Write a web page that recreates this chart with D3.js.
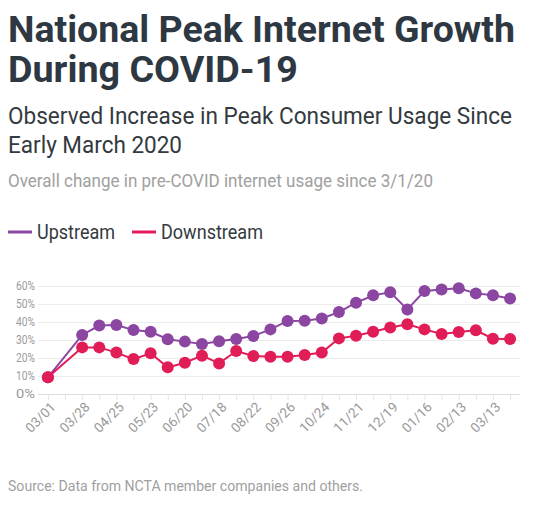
<!DOCTYPE html>
<html>
<head>
<meta charset="utf-8">
<script src="https://cdn.jsdelivr.net/npm/d3@7"></script>
<style>
  html, body { margin: 0; padding: 0; background: #fff; }
  text { font-family: Roboto, "Noto Sans", sans-serif; }
</style>
</head>
<body>
<div id="chart"></div>
<script>
// Peak internet growth during COVID-19 (percent over early March 2020)

const dates = ["03/01", "03/14", "03/28", "04/11", "04/25", "05/09", "05/23", "06/06",
  "06/20", "07/04", "07/18", "08/08", "08/22", "09/12", "09/26", "10/10", "10/24",
  "11/07", "11/21", "12/05", "12/19", "01/02", "01/16", "01/30", "02/13", "02/27",
  "03/13", "03/27"];

// null = no reading for that week
const upstream = [9.3, null, 32.8, 38.0, 38.3, 35.5, 34.6, 30.4, 29.1, 27.8, 29.3, 30.5,
  32.2, 35.9, 40.6, 40.7, 42.0, 45.5, 50.7, 54.8, 56.5, 47.0, 57.2, 58.1, 58.7, 55.9,
  54.8, 53.0];
const downstream = [9.3, null, 25.9, 25.9, 23.0, 19.4, 22.6, 14.8, 17.4, 21.3, 17.0, 23.9,
  21.1, 20.7, 20.7, 21.7, 23.0, 30.9, 32.4, 34.6, 36.9, 38.7, 35.9, 33.3, 34.4, 35.4,
  30.7, 30.5];

const yTicks = [0, 10, 20, 30, 40, 50, 60];
const xTickLabels = dates.filter((d, i) => i % 2 === 0 && i < 27);

const W = 540, H = 510;
const purple = "#8a46a0";
const red = "#e11d58";

const svg = d3.select("#chart").append("svg")
  .attr("width", W)
  .attr("height", H);

// header texts: one <text> per block, lines as tspans (condensed look via textLength)
function addBlock(lines, x, size, weight, color) {
  const t = svg.append("text")
    .attr("font-size", size)
    .attr("font-weight", weight)
    .attr("fill", color);
  lines.forEach(l => {
    t.append("tspan")
      .attr("x", x).attr("y", l.y)
      .attr("textLength", l.len)
      .attr("lengthAdjust", "spacingAndGlyphs")
      .text(l.str);
  });
  return t;
}

addBlock([
  { str: "National Peak Internet Growth", y: 42, len: 507 },
  { str: "During COVID-19", y: 82, len: 290 }
], 8, 37, 700, "#2e3842");
addBlock([
  { str: "Observed Increase in Peak Consumer Usage Since", y: 124, len: 504 },
  { str: "Early March 2020", y: 153, len: 174 }
], 8, 23.5, 400, "#333a40");
addBlock([{ str: "Overall change in pre-COVID internet usage since 3/1/20", y: 187, len: 425 }],
  8, 17.5, 400, "#a0a0a0");
addBlock([{ str: "Source: Data from NCTA member companies and others.", y: 491, len: 355 }],
  8, 15, 400, "#a0a0a0");

// legend
const legend = [
  { name: "Upstream", color: purple, x: 8, len: 78 },
  { name: "Downstream", color: red, x: 132, len: 102 }
];
legend.forEach(l => {
  svg.append("line")
    .attr("x1", l.x).attr("x2", l.x + 24)
    .attr("y1", 232).attr("y2", 232)
    .attr("stroke", l.color).attr("stroke-width", 3);
  addBlock([{ str: l.name, y: 239, len: l.len }], l.x + 29, 21, 400, "#333a40");
});

// scales
const x = d3.scalePoint().domain(dates).range([38, 520]).padding(0.58);
const y = d3.scaleLinear().domain([0, 60]).range([394, 286]);

// gridlines + y labels
const yAxis = svg.append("g")
  .attr("transform", "translate(38,0)")
  .call(d3.axisLeft(y).tickValues(yTicks).tickSize(-482).tickFormat(d => d + "%"));
yAxis.select(".domain").remove();
yAxis.selectAll(".tick line").attr("stroke", d => d === 0 ? "#dcdcdc" : "#ececec");
yAxis.selectAll(".tick text")
  .attr("x", -3)
  .attr("fill", "#9a9a9a")
  .attr("font-size", 12)
  .attr("font-family", "Roboto, sans-serif")
  .attr("textLength", 19)
  .attr("lengthAdjust", "spacingAndGlyphs");

// x axis
const xAxis = svg.append("g")
  .attr("transform", "translate(0,394)")
  .call(d3.axisBottom(x).tickSize(6).tickFormat(d => xTickLabels.includes(d) ? d : ""));
xAxis.select(".domain").remove();
xAxis.selectAll(".tick line").attr("stroke", "#e4e4e4");
xAxis.selectAll(".tick text")
  .attr("fill", "#9a9a9a")
  .attr("font-size", 13.5)
  .attr("font-family", "Roboto, sans-serif")
  .attr("text-anchor", "end")
  .attr("y", 0).attr("dy", 0)
  .attr("transform", "translate(8,14) rotate(-45)");

// series
const series = [
  { name: "Upstream", values: upstream, color: purple },
  { name: "Downstream", values: downstream, color: red }
];

const lineGen = d3.line()
  .x(d => x(d.date))
  .y(d => y(d.value));

series.forEach(s => {
  const pts = dates.map((d, i) => ({ date: d, value: s.values[i] }))
    .filter(p => p.value !== null);

  svg.append("path")
    .datum(pts)
    .attr("fill", "none")
    .attr("stroke", s.color)
    .attr("stroke-width", 2)
    .attr("d", lineGen);

  svg.selectAll(null)
    .data(pts)
    .enter()
    .append("circle")
    .attr("cx", d => x(d.date))
    .attr("cy", d => y(d.value))
    .attr("r", 6)
    .attr("fill", s.color);
});
</script>
</body>
</html>
